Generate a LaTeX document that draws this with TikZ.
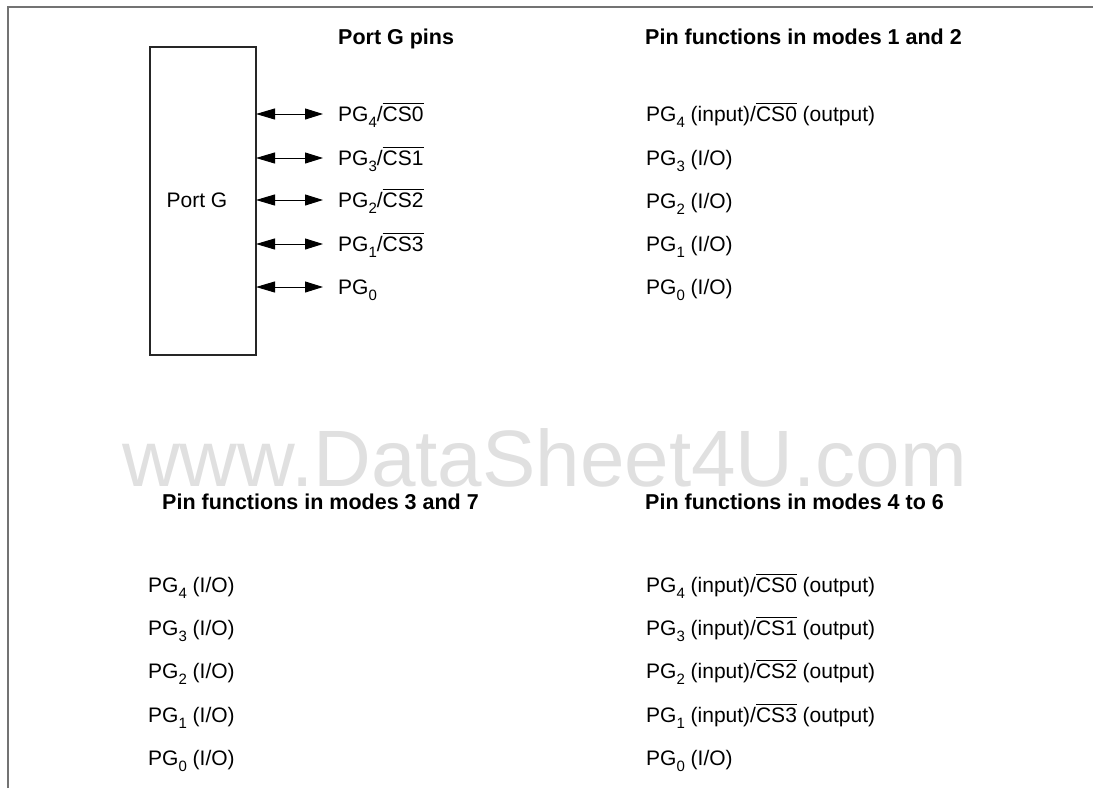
\documentclass[tikz,border=0pt]{standalone}
\usepackage{fontspec}
\setmainfont{Liberation Sans}
\usetikzlibrary{arrows.meta}
\newcommand\pgsub[1]{\raisebox{-0.3em}{\fontsize{15}{15}\selectfont #1}}
\newcommand\ovl[1]{\leavevmode\vbox{\hrule height 1pt\kern 2.6pt\hbox{#1}}}
\begin{document}
\begin{tikzpicture}[x=1pt,y=-1pt,
  txt/.style={anchor=base west,inner sep=0pt,font=\fontsize{21}{21}\selectfont},
  ttl/.style={anchor=base west,inner sep=0pt,font=\fontsize{21.5}{21.5}\selectfont\bfseries},
  pinarrow/.style={line width=1pt,{Triangle[length=19pt,width=11pt]}-{Triangle[length=18pt,width=11pt]}},
  frameline/.style={draw=black!55,line width=1.5pt},
  portbox/.style={draw=black!85,line width=1.3pt,fill=none,inner sep=0pt}]
\useasboundingbox (0,0) rectangle (1093,788);
% frame
\coordinate (ftl) at (8,7);
\coordinate (ftr) at (1093,7);
\coordinate (fbl) at (8,788);
\draw[frameline] (fbl) -- (ftl) -- (ftr);
% watermark
\node[anchor=base west,inner sep=0pt,text depth=0pt,text=black!12,font=\fontsize{80}{80}\selectfont] (wm) at (122,486) {www.DataSheet4U.com};
% port box
\node[portbox,minimum width=106pt,minimum height=308pt] (pg) at (203,201) {};
\node[txt,anchor=center] (pgl) at (197,200) {Port G};
% titles
\node[ttl] (t1) at (338,44) {Port G pins};
\node[ttl] (t2) at (645,44) {Pin functions in modes 1 and 2};
\node[ttl] (t3) at (162,509) {Pin functions in modes 3 and 7};
\node[ttl] (t4) at (645,509) {Pin functions in modes 4 to 6};
% pins
\foreach \i/\y/\lab in {4/114/{PG\pgsub{4}/\ovl{CS0}},3/158/{PG\pgsub{3}/\ovl{CS1}},2/200/{PG\pgsub{2}/\ovl{CS2}},1/244/{PG\pgsub{1}/\ovl{CS3}},0/287/{PG\pgsub{0}}}{
  \coordinate (a\i) at (256,\y);
  \coordinate (b\i) at (323,\y);
  \draw[pinarrow] (a\i) -- (b\i);
  \node[txt] (p\i) at (338,\y+7) {\lab};
}
% modes 1 and 2
\node[txt] (m1a) at (646,121) {PG\pgsub{4} (input)/\ovl{CS0} (output)};
\node[txt] (m1b) at (646,165) {PG\pgsub{3} (I/O)};
\node[txt] (m1c) at (646,208) {PG\pgsub{2} (I/O)};
\node[txt] (m1d) at (646,251) {PG\pgsub{1} (I/O)};
\node[txt] (m1e) at (646,294) {PG\pgsub{0} (I/O)};
% modes 3 and 7
\node[txt] (m3a) at (148,592) {PG\pgsub{4} (I/O)};
\node[txt] (m3b) at (148,635) {PG\pgsub{3} (I/O)};
\node[txt] (m3c) at (148,678) {PG\pgsub{2} (I/O)};
\node[txt] (m3d) at (148,722) {PG\pgsub{1} (I/O)};
\node[txt] (m3e) at (148,765) {PG\pgsub{0} (I/O)};
% modes 4 to 6
\node[txt] (m4a) at (646,592) {PG\pgsub{4} (input)/\ovl{CS0} (output)};
\node[txt] (m4b) at (646,635) {PG\pgsub{3} (input)/\ovl{CS1} (output)};
\node[txt] (m4c) at (646,678) {PG\pgsub{2} (input)/\ovl{CS2} (output)};
\node[txt] (m4d) at (646,722) {PG\pgsub{1} (input)/\ovl{CS3} (output)};
\node[txt] (m4e) at (646,765) {PG\pgsub{0} (I/O)};
\end{tikzpicture}
\end{document}
